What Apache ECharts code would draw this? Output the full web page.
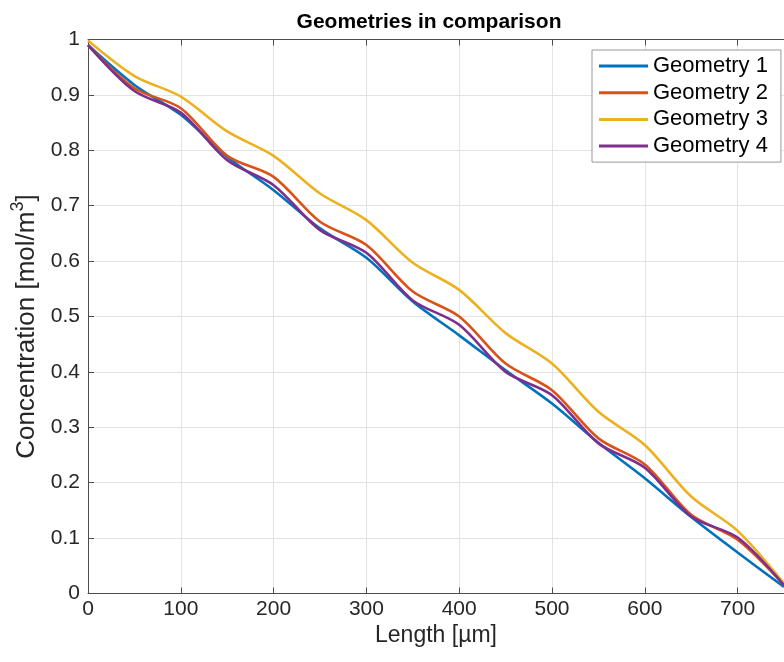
<!DOCTYPE html>
<html>
<head>
<meta charset="utf-8">
<script src="https://cdn.jsdelivr.net/npm/echarts@6/dist/echarts.min.js"></script>
<style>html,body{margin:0;padding:0;background:#fff}#c{width:784px;height:662px}</style>
</head>
<body>
<div id="c"></div>
<script>
const lengths = [0, 50, 100, 150, 200, 250, 300, 350, 400, 450, 500, 550, 600, 650, 700, 750];
const geometry1 = [0.99, 0.918, 0.864, 0.788, 0.728, 0.659, 0.606, 0.527, 0.466, 0.403, 0.343, 0.272, 0.208, 0.138, 0.074, 0.012];
const geometry2 = [0.99, 0.912, 0.876, 0.790, 0.752, 0.671, 0.629, 0.545, 0.500, 0.415, 0.367, 0.280, 0.233, 0.142, 0.097, 0.015];
const geometry3 = [0.998, 0.934, 0.897, 0.834, 0.790, 0.722, 0.674, 0.597, 0.548, 0.470, 0.415, 0.328, 0.268, 0.175, 0.113, 0.018];
const geometry4 = [0.99, 0.907, 0.868, 0.782, 0.737, 0.656, 0.615, 0.529, 0.485, 0.400, 0.358, 0.271, 0.227, 0.139, 0.101, 0.015];
const seriesNames = ['Geometry 1', 'Geometry 2', 'Geometry 3', 'Geometry 4'];
const colors = ['#0072BD', '#D95319', '#EDB120', '#7E2F8E'];
const titleText = 'Geometries in comparison';
const xName = 'Length [µm]';
const yNameMain = 'Concentration [mol/m';
const yNameSup = '3';
const yNameEnd = ']';

const font = 'Liberation Sans, Arial, Helvetica, sans-serif';
const allData = [geometry1, geometry2, geometry3, geometry4];
const chart = echarts.init(document.getElementById('c'), null, {renderer: 'canvas'});
const axisColor = '#4d4d4d';
chart.setOption({
  animation: false,
  backgroundColor: '#fff',
  color: colors,
  title: {
    text: titleText, left: 424, top: 7, textAlign: 'center',
    textStyle: {fontFamily: font, fontSize: 21, fontWeight: 'bold', color: '#000'}
  },
  legend: {
    orient: 'vertical', left: 592, top: 50,
    icon: 'rect', itemWidth: 49, itemHeight: 3, itemGap: 4.7,
    padding: [5, 13, 5, 7],
    borderColor: '#999', borderWidth: 1, backgroundColor: '#fff',
    textStyle: {fontFamily: font, fontSize: 22, color: '#000', lineHeight: 22},
    data: seriesNames
  },
  grid: {left: 88, top: 39.5, width: 699, height: 554, containLabel: false},
  xAxis: [{
    type: 'value', min: 0, max: 750, interval: 100,
    name: xName, nameLocation: 'middle', nameGap: 27,
    nameTextStyle: {fontFamily: font, fontSize: 23, color: '#262626'},
    axisLine: {show: true, lineStyle: {color: axisColor, width: 1}},
    axisTick: {show: true, inside: true, length: 6, lineStyle: {color: axisColor}},
    axisLabel: {fontFamily: font, fontSize: 21, color: '#262626', margin: 5, showMaxLabel: false},
    splitLine: {show: true, lineStyle: {color: '#e3e3e3', width: 1}}
  }, {
    type: 'value', min: 0, max: 750, interval: 100, position: 'top',
    axisLine: {show: true, lineStyle: {color: axisColor, width: 1}},
    axisTick: {show: true, inside: true, length: 6, lineStyle: {color: axisColor}},
    axisLabel: {show: false}, splitLine: {show: false}
  }],
  yAxis: {
    type: 'value', min: 0, max: 1, interval: 0.1,
    name: '{m|' + yNameMain + '}{s|' + yNameSup + '}{m|' + yNameEnd + '}',
    nameLocation: 'middle', nameGap: 46,
    nameTextStyle: {
      fontFamily: font, fontSize: 26, color: '#262626', padding: [0, 20, 0, 0],
      rich: {
        m: {fontFamily: font, fontSize: 26, color: '#262626', verticalAlign: 'bottom', lineHeight: 31},
        s: {fontFamily: font, fontSize: 18, color: '#262626', verticalAlign: 'top', lineHeight: 31}
      }
    },
    axisLine: {show: true, lineStyle: {color: axisColor, width: 1}},
    axisTick: {show: true, inside: true, length: 6, lineStyle: {color: axisColor}},
    axisLabel: {fontFamily: font, fontSize: 21, color: '#262626', margin: 8,
      formatter: v => String(Math.round(v * 10) / 10)},
    splitLine: {show: true, lineStyle: {color: '#e3e3e3', width: 1}}
  },
  series: seriesNames.map((n, i) => ({
    name: n, type: 'line', xAxisIndex: 0, smooth: 0.3, showSymbol: false,
    lineStyle: {width: 2.6, color: colors[i]},
    data: lengths.map((x, j) => [x, allData[i][j]])
  }))
});
</script>
</body>
</html>
